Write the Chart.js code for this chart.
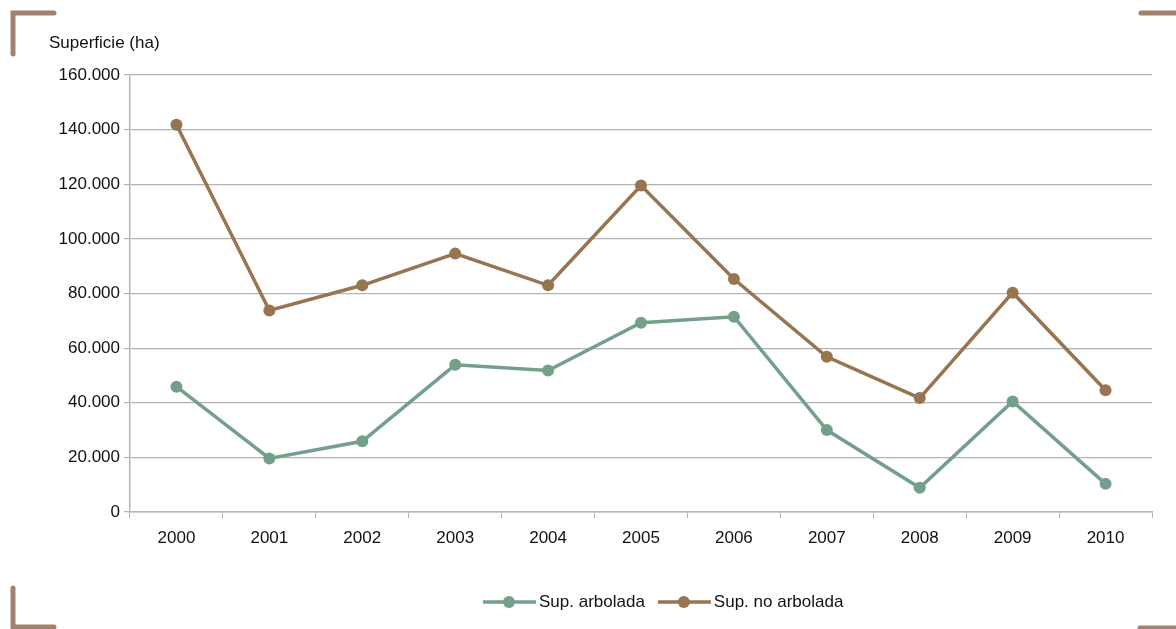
<!DOCTYPE html>
<html>
<head>
<meta charset="utf-8">
<script src="https://cdn.jsdelivr.net/npm/chart.js@4.4.1/dist/chart.umd.min.js"></script>
<style>
  html, body { margin: 0; padding: 0; background: #fff; }
  #wrap { width: 1176px; height: 629px; position: relative; }
</style>
</head>
<body>
<div id="wrap"><canvas id="myChart"></canvas></div>
<script>
// datos
const anios = ['2000', '2001', '2002', '2003', '2004', '2005', '2006', '2007', '2008', '2009', '2010'];
const supArbolada = [45900, 19600, 25900, 53900, 51800, 69300, 71500, 30000, 8900, 40500, 10300];
const supNoArbolada = [141800, 73800, 83000, 94600, 83000, 119500, 85300, 56800, 41700, 80300, 44600];
const nombresSeries = ['Sup. arbolada', 'Sup. no arbolada'];
const tituloEje = 'Superficie (ha)';

const colorVerde = '#74a08a';
const colorMarron = '#977550';
const colorEsquinas = '#a1826d';
const fuente = '"Liberation Sans", Arial, sans-serif';

function miles(v) {
    return v.toString().replace(/\B(?=(\d{3})+(?!\d))/g, '.');
}

// esquinas, titulo del eje y leyenda
const decoracion = {
    id: 'decoracion',
    afterDraw(chart) {
        const c = chart.ctx;
        c.save();
        c.strokeStyle = colorEsquinas;
        c.lineWidth = 5;
        c.lineCap = 'round';
        c.beginPath();
        c.moveTo(13, 54); c.lineTo(13, 13); c.lineTo(54, 13);
        c.moveTo(1141, 13); c.lineTo(1182, 13);
        c.moveTo(13, 588); c.lineTo(13, 627); c.lineTo(54, 627);
        c.moveTo(1140, 628); c.lineTo(1182, 628);
        c.stroke();

        c.fillStyle = '#111';
        c.font = '17px ' + fuente;
        c.textBaseline = 'middle';
        c.textAlign = 'left';
        c.fillText(tituloEje, 49, 43);

        // leyenda
        const y = 602;
        let x = 483;
        chart.data.datasets.forEach((ds, i) => {
            c.strokeStyle = ds.borderColor;
            c.lineWidth = 3.5;
            c.lineCap = 'butt';
            c.beginPath();
            c.moveTo(x, y); c.lineTo(x + 53, y);
            c.stroke();
            c.fillStyle = ds.borderColor;
            c.beginPath();
            c.arc(x + 26, y, 6, 0, Math.PI * 2);
            c.fill();
            c.fillStyle = '#111';
            c.fillText(ds.label, x + 56, y);
            x += 56 + c.measureText(ds.label).width + 13;
        });
        c.restore();
    }
};

var ctx = document.getElementById('myChart').getContext('2d');
var myChart = new Chart(ctx, {
    type: 'line',
    data: {
        labels: anios,
        datasets: [{
            label: nombresSeries[0],
            data: supArbolada,
            borderColor: colorVerde,
            backgroundColor: colorVerde,
            borderWidth: 3.5,
            pointRadius: 6,
            pointHoverRadius: 6,
            pointBorderWidth: 0,
            tension: 0
        }, {
            label: nombresSeries[1],
            data: supNoArbolada,
            borderColor: colorMarron,
            backgroundColor: colorMarron,
            borderWidth: 3.5,
            pointRadius: 6,
            pointHoverRadius: 6,
            pointBorderWidth: 0,
            tension: 0
        }]
    },
    options: {
        responsive: true,
        maintainAspectRatio: false,
        animation: false,
        layout: {
            padding: { top: 75, right: 24, left: 0, bottom: 0 }
        },
        plugins: {
            legend: { display: false },
            tooltip: { enabled: false }
        },
        scales: {
            x: {
                offset: true,
                afterFit(scale) { scale.height = 117; },
                grid: {
                    offset: true,
                    drawOnChartArea: false,
                    drawTicks: true,
                    tickLength: 6,
                    color: '#b5b5b5'
                },
                border: { color: '#b5b5b5', width: 1.5 },
                ticks: {
                    color: '#111',
                    padding: 10,
                    font: { family: fuente, size: 17 },
                    maxRotation: 0
                }
            },
            y: {
                min: 0,
                max: 160000,
                afterFit(scale) { scale.width = 130; },
                grid: {
                    color: '#b3b3b3',
                    lineWidth: 1.2,
                    tickLength: 6
                },
                border: { color: '#b5b5b5', width: 1.5 },
                ticks: {
                    stepSize: 20000,
                    color: '#111',
                    padding: 4,
                    font: { family: fuente, size: 17 },
                    callback: v => miles(v)
                }
            }
        }
    },
    plugins: [decoracion]
});
</script>
</body>
</html>
